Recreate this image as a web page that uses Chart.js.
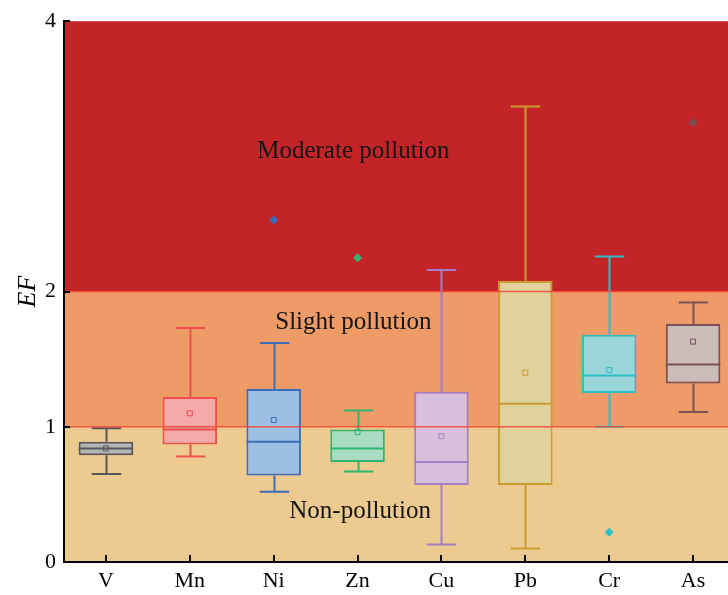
<!DOCTYPE html>
<html>
<head>
<meta charset="utf-8">
<script src="https://cdn.jsdelivr.net/npm/chart.js@4/dist/chart.umd.min.js"></script>
<style>
html,body{margin:0;padding:0;background:#fff;overflow:hidden;}
#wrap{width:740px;height:595px;}
</style>
</head>
<body>
<div id="wrap"><canvas id="c" width="740" height="595"></canvas></div>
<script>
// ---- data ----
const categories = ['V','Mn','Ni','Zn','Cu','Pb','Cr','As'];
const whiskerLow  = [0.65, 0.78, 0.52, 0.67, 0.13, 0.10, 1.00, 1.11];
const q1          = [0.79, 0.87, 0.64, 0.74, 0.57, 0.57, 1.25, 1.32];
const median      = [0.84, 0.98, 0.89, 0.84, 0.74, 1.17, 1.38, 1.46];
const q3          = [0.89, 1.22, 1.28, 0.98, 1.26, 2.08, 1.68, 1.76];
const whiskerHigh = [0.99, 1.73, 1.62, 1.12, 2.16, 3.37, 2.26, 1.92];
const means       = [0.84, 1.10, 1.05, 0.96, 0.93, 1.40, 1.42, 1.63];
const outlierCats   = ['Ni','Zn','Cr','As'];
const outlierValues = [2.53, 2.25, 0.22, 3.25];
const yTicks = [0, 1, 2, 4];
const bands = [
  {from: 0, to: 1, label: 'Non-pollution'},
  {from: 1, to: 2, label: 'Slight pollution'},
  {from: 2, to: 4, label: 'Moderate pollution'}
];

// ---- styles ----
const strokes = ['#555759','#f04f4f','#3b6dbd','#2fb571','#a57ec4','#c99e2c','#2cbfc6','#7a5057'];
const fills   = ['#b3b5b8','#f5a8a8','#9dbfe4','#a9dcc2','#d8bfdd','#e1d19c','#9ad5dc','#ccbcba'];
const bandColors = ['#edca8f','#ee9b67','#c22427'];
const bandLabelPos = [{x: 3.03, y: 0.376}, {x: 2.95, y: 1.77}, {x: 2.95, y: 3.04}];
const serif = "'Liberation Serif','Times New Roman',serif";

const outlierColor = c => strokes[categories.indexOf(c)];

const extras = {
  id: 'extras',
  beforeDraw(chart) {
    const {ctx, chartArea: a, scales: {y}} = chart;
    ctx.save();
    bands.forEach((b, i) => {
      const t = y.getPixelForValue(b.to), btm = y.getPixelForValue(b.from);
      ctx.fillStyle = bandColors[i];
      ctx.fillRect(a.left, t, a.right - a.left, btm - t);
    });
    ctx.restore();
  },
  beforeDatasetsDraw(chart) {
    const {ctx, scales: {x, y}} = chart;
    const meta = chart.getDatasetMeta(0);
    ctx.save();
    categories.forEach((c, i) => {
      const cx = Math.round(x.getPixelForValue(i)) + 0.5;
      const w = meta.data[i].width;
      const cap = w * 0.27;
      ctx.strokeStyle = strokes[i];
      ctx.lineWidth = 2;
      ctx.beginPath();
      ctx.moveTo(cx, y.getPixelForValue(whiskerLow[i]));
      ctx.lineTo(cx, y.getPixelForValue(q1[i]));
      ctx.moveTo(cx, y.getPixelForValue(q3[i]));
      ctx.lineTo(cx, y.getPixelForValue(whiskerHigh[i]));
      ctx.moveTo(cx - cap, y.getPixelForValue(whiskerLow[i]));
      ctx.lineTo(cx + cap, y.getPixelForValue(whiskerLow[i]));
      ctx.moveTo(cx - cap, y.getPixelForValue(whiskerHigh[i]));
      ctx.lineTo(cx + cap, y.getPixelForValue(whiskerHigh[i]));
      ctx.stroke();
    });
    ctx.restore();
  },
  afterDatasetsDraw(chart) {
    const {ctx, chartArea: a, scales: {x, y}} = chart;
    const meta = chart.getDatasetMeta(0);
    ctx.save();
    // medians
    categories.forEach((c, i) => {
      const cx = x.getPixelForValue(i);
      const w = meta.data[i].width;
      const my = y.getPixelForValue(median[i]);
      ctx.strokeStyle = strokes[i];
      ctx.lineWidth = 2;
      ctx.beginPath();
      ctx.moveTo(cx - w / 2, my);
      ctx.lineTo(cx + w / 2, my);
      ctx.stroke();
    });
    // band boundary lines
    ctx.strokeStyle = 'rgba(245,70,55,0.85)';
    ctx.lineWidth = 1.5;
    [1, 2].forEach(v => {
      const py = y.getPixelForValue(v);
      ctx.beginPath();
      ctx.moveTo(a.left, py);
      ctx.lineTo(a.right, py);
      ctx.stroke();
    });
    // band labels
    ctx.fillStyle = '#151515';
    ctx.font = '25px ' + serif;
    ctx.textAlign = 'center';
    ctx.textBaseline = 'middle';
    bands.forEach((b, i) => {
      ctx.fillText(b.label, x.getPixelForValue(bandLabelPos[i].x), y.getPixelForValue(bandLabelPos[i].y));
    });
    // inner tick marks
    ctx.strokeStyle = '#000';
    ctx.lineWidth = 2;
    categories.forEach((c, i) => {
      const cx = Math.round(x.getPixelForValue(i));
      ctx.beginPath();
      ctx.moveTo(cx, a.bottom);
      ctx.lineTo(cx, a.bottom - 7);
      ctx.stroke();
    });
    yTicks.forEach(v => {
      const py = Math.round(y.getPixelForValue(v));
      ctx.beginPath();
      ctx.moveTo(a.left, py);
      ctx.lineTo(a.left + 6, py);
      ctx.stroke();
    });
    ctx.restore();
  }
};

new Chart(document.getElementById('c'), {
  type: 'bar',
  data: {
    labels: categories,
    datasets: [
      {
        type: 'bar',
        data: categories.map((c, i) => [q1[i], q3[i]]),
        backgroundColor: fills,
        borderColor: strokes,
        borderWidth: 2,
        borderSkipped: false,
        categoryPercentage: 1,
        barPercentage: 0.65,
        grouped: false,
        order: 3
      },
      {
        type: 'scatter',
        data: categories.map((c, i) => ({x: c, y: means[i]})),
        pointStyle: 'rect',
        radius: 3.5,
        backgroundColor: 'rgba(0,0,0,0)',
        borderColor: strokes,
        borderWidth: 1,
        order: 2
      },
      {
        type: 'scatter',
        data: outlierCats.map((c, i) => ({x: c, y: outlierValues[i]})),
        pointStyle: 'rectRot',
        radius: 4.5,
        backgroundColor: outlierCats.map(outlierColor),
        borderColor: outlierCats.map(outlierColor),
        borderWidth: 0,
        order: 1
      }
    ]
  },
  options: {
    responsive: false,
    animation: false,
    devicePixelRatio: 1,
    layout: {padding: {top: 19, right: 0, bottom: 0, left: 0}},
    plugins: {legend: {display: false}, tooltip: {enabled: false}},
    scales: {
      x: {
        type: 'category',
        offset: true,
        grid: {display: false, drawTicks: false},
        border: {display: true, color: '#000', width: 2},
        ticks: {color: '#000', font: {family: serif, size: 22}, padding: 6},
        afterFit(s) { s.height = 33; }
      },
      y: {
        min: 0, max: 4,
        grid: {display: false, drawTicks: false},
        border: {display: true, color: '#000', width: 2},
        afterBuildTicks(s) { s.ticks = yTicks.map(v => ({value: v})); },
        ticks: {color: '#000', font: {family: serif, size: 22}, padding: 8},
        title: {display: true, text: 'EF', color: '#000', font: {family: serif, size: 26, style: 'italic'}, padding: {top: 13, bottom: 0}},
        afterFit(s) { s.width = 64; }
      }
    }
  },
  plugins: [extras]
});
</script>
</body>
</html>
